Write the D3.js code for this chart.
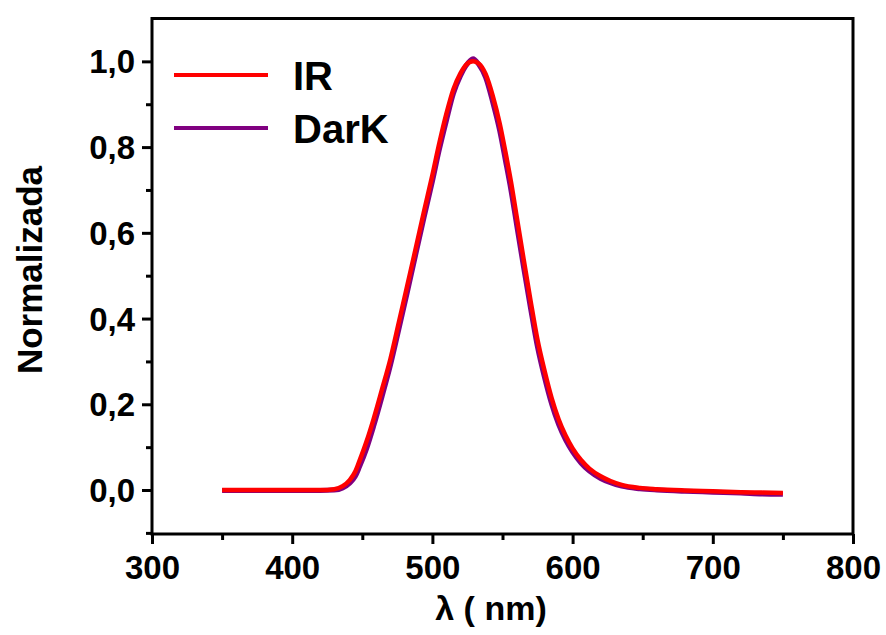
<!DOCTYPE html>
<html><head><meta charset="utf-8">
<script src="https://cdn.jsdelivr.net/npm/d3@7"></script>
<style>body{margin:0;background:#fff}svg{display:block}text{font-family:"Liberation Sans",Arial,sans-serif;font-weight:bold;fill:#000}</style>
</head><body>
<script>
const wavelengths = [350,360,380,400,420,430,436,441,445,448,453,458,464,470,476,482,488,494,500,505,510,515,520,524,529,533,538,543,548,552,556,560,565,570,575,580,585,590,595,600,606,612,620,627,635,648,660,680,700,720,735,750];
const irValues = [0,0,0,0,0,0.002,0.009,0.023,0.043,0.068,0.113,0.165,0.234,0.305,0.39,0.476,0.562,0.65,0.735,0.81,0.878,0.935,0.972,0.992,1.0,0.995,0.97,0.92,0.855,0.79,0.72,0.64,0.54,0.442,0.35,0.278,0.215,0.165,0.127,0.097,0.07,0.05,0.032,0.021,0.012,0.005,0.002,-0.001,-0.003,-0.005,-0.006,-0.007];
const darkValues = [-0.001,-0.001,-0.001,-0.001,-0.001,0,0.005,0.016,0.032,0.054,0.096,0.148,0.217,0.29,0.374,0.46,0.548,0.635,0.72,0.795,0.862,0.925,0.966,0.99,1.006,0.993,0.962,0.905,0.838,0.77,0.7,0.62,0.52,0.424,0.333,0.262,0.201,0.153,0.117,0.089,0.063,0.044,0.027,0.017,0.009,0.003,0,-0.003,-0.005,-0.007,-0.009,-0.01];
const seriesNames = ["IR","DarK"];
const seriesColors = ["#ff0000","#800080"];
const xTicks = [300,400,500,600,700,800];
const yTicks = [0,0.2,0.4,0.6,0.8,1.0];
const yTickLabels = ["0,0","0,2","0,4","0,6","0,8","1,0"];

const W=886,H=635;
const L=152,R=853,T=18.5,B=534;
const svg=d3.select("body").append("svg").attr("width",W).attr("height",H);
const x=d3.scaleLinear().domain([300,800]).range([L,R]);
const y=d3.scaleLinear().domain([-0.1026,1.1]).range([B,T]);

const line=d3.line().x(d=>x(d[0])).y(d=>y(d[1])).curve(d3.curveMonotoneX);
const irData=wavelengths.map((w,i)=>[w,irValues[i]]);
const darkData=wavelengths.map((w,i)=>[w,darkValues[i]]);
svg.append("path").datum(darkData).attr("d",line).attr("fill","none").attr("stroke",seriesColors[1]).attr("stroke-width",5).attr("stroke-linejoin","round");
svg.append("path").datum(irData).attr("d",line).attr("fill","none").attr("stroke",seriesColors[0]).attr("stroke-width",4.5).attr("stroke-linejoin","round");

// axes
const xAxis=d3.axisBottom(x).tickValues(xTicks).tickSize(10).tickFormat(d3.format("d"));
const gx=svg.append("g").attr("transform",`translate(0,${B})`).call(xAxis);
gx.select(".domain").remove();
gx.selectAll(".tick line").attr("stroke","#000").attr("stroke-width",3);
gx.selectAll(".tick text").attr("font-size",33).attr("dy",0).attr("y",45).style("font-family",'"Liberation Sans",Arial,sans-serif').style("font-weight","bold");
const xMinor=d3.axisBottom(x).tickValues([350,450,550,650,750]).tickSize(6).tickFormat("");
const gxm=svg.append("g").attr("transform",`translate(0,${B})`).call(xMinor);
gxm.select(".domain").remove();
gxm.selectAll(".tick line").attr("stroke","#000").attr("stroke-width",3);

const yAxis=d3.axisLeft(y).tickValues(yTicks).tickSize(10).tickFormat((d,i)=>yTickLabels[i]);
const gy=svg.append("g").attr("transform",`translate(${L},0)`).call(yAxis);
gy.select(".domain").remove();
gy.selectAll(".tick line").attr("stroke","#000").attr("stroke-width",3);
gy.selectAll(".tick text").attr("font-size",33).attr("x",-17).attr("dy","0.35em").style("font-family",'"Liberation Sans",Arial,sans-serif').style("font-weight","bold");
const yMinor=d3.axisLeft(y).tickValues([-0.1,0.1,0.3,0.5,0.7,0.9]).tickSize(6).tickFormat("");
const gym=svg.append("g").attr("transform",`translate(${L},0)`).call(yMinor);
gym.select(".domain").remove();
gym.selectAll(".tick line").attr("stroke","#000").attr("stroke-width",3);

svg.append("rect").attr("x",L).attr("y",T).attr("width",R-L).attr("height",B-T).attr("fill","none").attr("stroke","#000").attr("stroke-width",3);

// titles
svg.append("text").attr("x",491).attr("y",620).attr("text-anchor","middle").attr("font-size",34).text("λ ( nm)");
svg.append("text").attr("transform","translate(42,270) rotate(-90)").attr("text-anchor","middle").attr("font-size",35).text("Normalizada");

// legend
const leg=svg.append("g");
seriesNames.forEach((n,i)=>{
  const yy=75+i*53;
  leg.append("line").attr("x1",174).attr("x2",268).attr("y1",yy).attr("y2",yy).attr("stroke",seriesColors[i]).attr("stroke-width",4);
  leg.append("text").attr("x",293).attr("y",yy+15).attr("font-size",40).text(n);
});
</script>
</body></html>
